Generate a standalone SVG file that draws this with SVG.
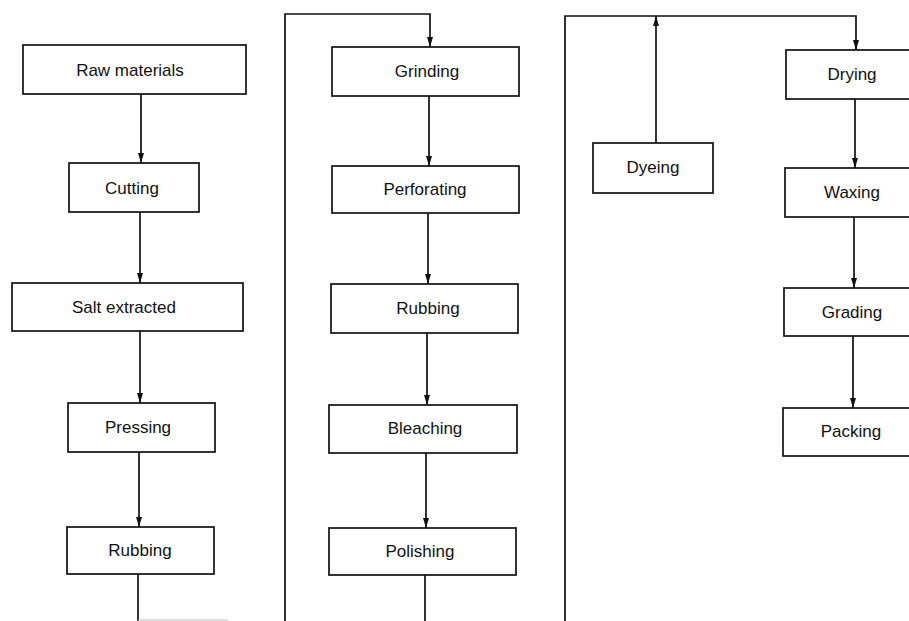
<svg xmlns="http://www.w3.org/2000/svg" width="909" height="621" viewBox="0 0 909 621">
<defs>
<style>
.box{fill:#fff;stroke:#111;stroke-width:1.7}
.lbl{font-family:"Liberation Sans",Arial,sans-serif;font-size:17px;fill:#111;text-anchor:middle}
.ln{fill:none;stroke:#111;stroke-width:1.7}
.faint{fill:none;stroke:#bbb;stroke-width:1.2}
</style>
<marker id="ah" viewBox="0 0 10 6" refX="10" refY="3" markerWidth="10" markerHeight="6" markerUnits="userSpaceOnUse" orient="auto">
<path d="M0,0 L10,3 L0,6 Z" fill="#111"/>
</marker>
</defs>
<rect width="909" height="621" fill="#fff"/>
<g id="connectors">
<path class="ln" d="M141,94 V163" marker-end="url(#ah)"/>
<path class="ln" d="M140,212 V283" marker-end="url(#ah)"/>
<path class="ln" d="M140,331 V403" marker-end="url(#ah)"/>
<path class="ln" d="M139,452 V527" marker-end="url(#ah)"/>
<path class="ln" d="M138,574 V621"/>
<path class="faint" d="M138,620 H228"/>
<path class="ln" d="M285,621 V14 H430 V47" marker-end="url(#ah)"/>
<path class="ln" d="M429,96 V166" marker-end="url(#ah)"/>
<path class="ln" d="M428,213 V284" marker-end="url(#ah)"/>
<path class="ln" d="M427,333 V405" marker-end="url(#ah)"/>
<path class="ln" d="M426,453 V528" marker-end="url(#ah)"/>
<path class="ln" d="M425,575 V621"/>
<path class="ln" d="M565,621 V16 H856 V50" marker-end="url(#ah)"/>
<path class="ln" d="M656,143 V16" marker-end="url(#ah)"/>
<path class="ln" d="M855,99 V168" marker-end="url(#ah)"/>
<path class="ln" d="M854,217 V288" marker-end="url(#ah)"/>
<path class="ln" d="M853,336 V408" marker-end="url(#ah)"/>
</g>
<g id="raw-materials"><rect class="box" x="23" y="45" width="223" height="49"/><text class="lbl" x="130" y="76">Raw materials</text></g>
<g id="cutting"><rect class="box" x="69" y="163" width="130" height="49"/><text class="lbl" x="132" y="194">Cutting</text></g>
<g id="salt-extracted"><rect class="box" x="12" y="283" width="231" height="48"/><text class="lbl" x="124" y="313">Salt extracted</text></g>
<g id="pressing"><rect class="box" x="68" y="403" width="147" height="49"/><text class="lbl" x="138" y="433">Pressing</text></g>
<g id="rubbing-1"><rect class="box" x="67" y="527" width="147" height="47"/><text class="lbl" x="140" y="556">Rubbing</text></g>
<g id="grinding"><rect class="box" x="332" y="47" width="187" height="49"/><text class="lbl" x="427" y="77">Grinding</text></g>
<g id="perforating"><rect class="box" x="332" y="166" width="187" height="47"/><text class="lbl" x="425" y="195">Perforating</text></g>
<g id="rubbing-2"><rect class="box" x="331" y="284" width="187" height="49"/><text class="lbl" x="428" y="314">Rubbing</text></g>
<g id="bleaching"><rect class="box" x="329" y="405" width="188" height="48"/><text class="lbl" x="425" y="434">Bleaching</text></g>
<g id="polishing"><rect class="box" x="329" y="528" width="187" height="47"/><text class="lbl" x="420" y="557">Polishing</text></g>
<g id="dyeing"><rect class="box" x="593" y="143" width="120" height="50"/><text class="lbl" x="653" y="173">Dyeing</text></g>
<g id="drying"><rect class="box" x="786" y="50" width="140" height="49"/><text class="lbl" x="852" y="80">Drying</text></g>
<g id="waxing"><rect class="box" x="785" y="168" width="140" height="49"/><text class="lbl" x="852" y="198">Waxing</text></g>
<g id="grading"><rect class="box" x="784" y="288" width="140" height="48"/><text class="lbl" x="852" y="318">Grading</text></g>
<g id="packing"><rect class="box" x="783" y="408" width="140" height="48"/><text class="lbl" x="851" y="437">Packing</text></g>
</svg>
